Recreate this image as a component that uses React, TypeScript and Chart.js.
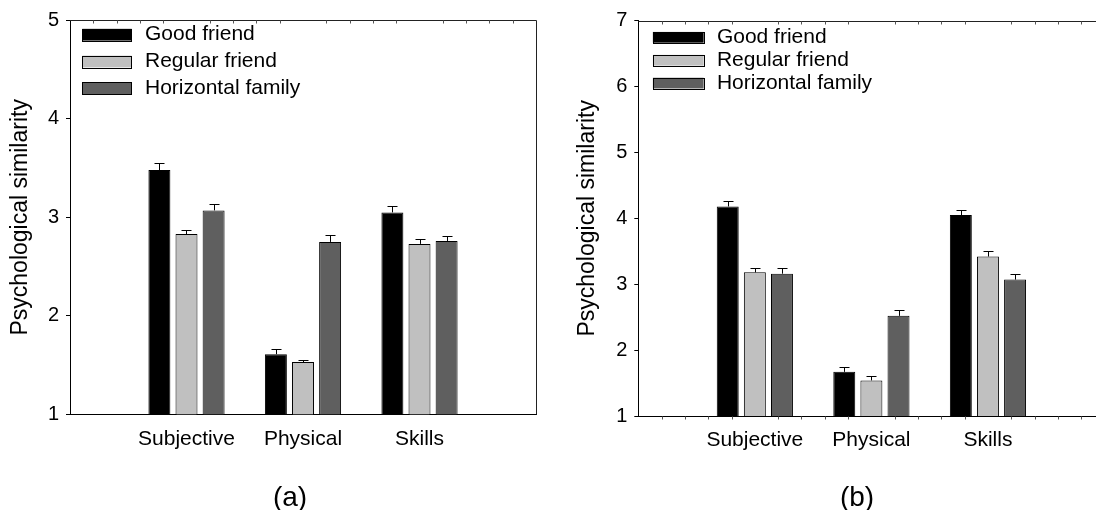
import { useEffect, useRef } from 'react';
import { Chart, registerables } from 'chart.js';

Chart.register(...registerables);

const FONT = '"Liberation Sans", Arial, Helvetica, sans-serif';

const categories = ['Subjective', 'Physical', 'Skills'];
const seriesLabels = ['Good friend', 'Regular friend', 'Horizontal family'];
const seriesColors = ['#000000', '#c0c0c0', '#5f5f5f'];
const yAxisTitle = 'Psychological similarity';
const panelCaptions = ['(a)', '(b)'];

// Panel (a): means and standard errors
const goodFriendA = [3.48, 1.61, 3.05];
const regularFriendA = [2.83, 1.53, 2.73];
const horizontalFamilyA = [3.07, 2.75, 2.76];
const goodFriendErrA = [0.07, 0.05, 0.06];
const regularFriendErrA = [0.045, 0.025, 0.045];
const horizontalFamilyErrA = [0.06, 0.07, 0.05];
const yRangeA = [1, 5];

// Panel (b): means and standard errors
const goodFriendB = [4.18, 1.67, 4.05];
const regularFriendB = [3.18, 1.54, 3.42];
const horizontalFamilyB = [3.16, 2.52, 3.07];
const goodFriendErrB = [0.09, 0.07, 0.08];
const regularFriendErrB = [0.07, 0.06, 0.09];
const horizontalFamilyErrB = [0.085, 0.085, 0.08];
const yRangeB = [1, 7];

type LegendLayout = {
  inset: number;
  firstRow: number;
  rowGap: number;
  boxW: number;
  boxH: number;
  textGap: number;
};

type Panel = {
  width: number;
  plotLeft: number;
  plotRight: number;
  plotTop: number;
  plotBottom: number;
  titlePad: number;
  values: number[][];
  errors: number[][];
  yRange: number[];
  legend: LegendLayout;
  bottomMinor: boolean;
};

const panelA: Panel = {
  width: 548,
  plotLeft: 70,
  plotRight: 536.5,
  plotTop: 20.3,
  plotBottom: 414.3,
  titlePad: 6.5,
  values: [goodFriendA, regularFriendA, horizontalFamilyA],
  errors: [goodFriendErrA, regularFriendErrA, horizontalFamilyErrA],
  yRange: yRangeA,
  legend: { inset: 12.3, firstRow: 14.4, rowGap: 26.8, boxW: 49.4, boxH: 11.7, textGap: 62.7 },
  bottomMinor: false,
};

const panelB: Panel = {
  width: 570,
  plotLeft: 90.3,
  plotRight: 556.5,
  plotTop: 20.7,
  plotBottom: 416,
  titlePad: 25.8,
  values: [goodFriendB, regularFriendB, horizontalFamilyB],
  errors: [goodFriendErrB, regularFriendErrB, horizontalFamilyErrB],
  yRange: yRangeB,
  legend: { inset: 14.6, firstRow: 16.6, rowGap: 22.9, boxW: 50.7, boxH: 10.7, textGap: 64 },
  bottomMinor: true,
};

// Upward-only error bars with a short cap, drawn on top of each bar
const errorBarPlugin = {
  id: 'errorBars',
  afterDatasetsDraw(chart: any) {
    const { ctx } = chart;
    const yScale = chart.scales.y;
    ctx.save();
    ctx.strokeStyle = '#000';
    ctx.lineWidth = 1;
    chart.data.datasets.forEach((ds: any, i: number) => {
      const meta = chart.getDatasetMeta(i);
      meta.data.forEach((bar: any, j: number) => {
        const v = ds.data[j].y;
        const e = ds.errors[j];
        const yTop = Math.round(yScale.getPixelForValue(v + e)) + 0.5;
        const x = Math.round(bar.x) + 0.5;
        ctx.beginPath();
        ctx.moveTo(x, bar.y);
        ctx.lineTo(x, yTop);
        ctx.moveTo(x - 5, yTop);
        ctx.lineTo(x + 5, yTop);
        ctx.stroke();
      });
    });
    ctx.restore();
  },
};

// Top/right frame plus the small minor ticks along the horizontal edges
const framePlugin = {
  id: 'frame',
  afterDraw(chart: any, _args: any, opts: any) {
    const { ctx } = chart;
    const { left, right, top, bottom } = chart.chartArea;
    const xs = chart.scales.x;
    ctx.save();
    ctx.strokeStyle = '#222';
    ctx.lineWidth = 1;
    const t = Math.round(top) + 0.5;
    const r = Math.round(right) + 0.5;
    ctx.beginPath();
    ctx.moveTo(left, t);
    ctx.lineTo(r, t);
    ctx.lineTo(r, bottom);
    ctx.stroke();

    ctx.strokeStyle = '#555';
    const steps = Math.round((xs.max - xs.min) * 5);
    const b = Math.round(bottom) + 0.5;
    ctx.beginPath();
    for (let k = 1; k < steps; k++) {
      if (k % 5 === 0) continue;
      const x = Math.round(xs.getPixelForValue(xs.min + k / 5)) + 0.5;
      ctx.moveTo(x, t);
      ctx.lineTo(x, t + 3);
      if (opts.bottomMinor) {
        ctx.moveTo(x, b);
        ctx.lineTo(x, b + 3);
      }
    }
    ctx.stroke();
    ctx.restore();
  },
};

// Legend boxes stacked in the upper-left corner of the plot
const boxLegendPlugin = {
  id: 'boxLegend',
  afterDraw(chart: any, _args: any, opts: any) {
    const { ctx } = chart;
    const { left, top } = chart.chartArea;
    ctx.save();
    ctx.font = `21px ${FONT}`;
    ctx.textBaseline = 'middle';
    ctx.textAlign = 'left';
    chart.data.datasets.forEach((ds: any, i: number) => {
      const cy = top + opts.firstRow + i * opts.rowGap;
      const bx = left + opts.inset;
      const by = cy - opts.boxH / 2;
      ctx.fillStyle = ds.backgroundColor;
      ctx.fillRect(bx, by, opts.boxW, opts.boxH);
      ctx.strokeStyle = '#000';
      ctx.lineWidth = 1;
      ctx.strokeRect(Math.round(bx) + 0.5, Math.round(by) + 0.5, Math.round(opts.boxW), Math.round(opts.boxH));
      ctx.fillStyle = '#000';
      ctx.fillText(ds.label, bx + opts.textGap, cy);
    });
    ctx.restore();
  },
};

function buildChart(canvas: HTMLCanvasElement, panel: Panel) {
  const datasets = seriesLabels.map((label, k) => ({
    label,
    data: categories.map((_, i) => ({ x: i + 1, y: panel.values[k][i] })),
    errors: panel.errors[k],
    backgroundColor: seriesColors[k],
    borderColor: '#000',
    borderWidth: 1,
    categoryPercentage: 0.698,
    barPercentage: 0.81,
  }));

  return new Chart(canvas, {
    type: 'bar',
    data: { datasets } as any,
    options: {
      responsive: false,
      animation: false,
      events: [],
      layout: {
        padding: { left: 0, top: panel.plotTop, right: panel.width - panel.plotRight, bottom: 0 },
      },
      plugins: {
        legend: { display: false },
        tooltip: { enabled: false },
        frame: { bottomMinor: panel.bottomMinor },
        boxLegend: panel.legend,
      } as any,
      scales: {
        x: {
          type: 'linear',
          min: 0,
          max: categories.length + 1,
          offset: false,
          ticks: {
            stepSize: 1,
            autoSkip: false,
            maxRotation: 0,
            padding: 12,
            color: '#000',
            font: { family: FONT, size: 21 },
            callback: (v: any) => categories[Number(v) - 1] ?? '',
          },
          grid: { display: false, drawTicks: false },
          border: { display: true, color: '#000', width: 1 },
          afterFit: (s: any) => {
            s.height = 510 - panel.plotBottom;
          },
        },
        y: {
          min: panel.yRange[0],
          max: panel.yRange[1],
          ticks: {
            stepSize: 1,
            padding: 7,
            color: '#000',
            font: { family: FONT, size: 20 },
          },
          grid: { drawOnChartArea: false, drawTicks: true, tickLength: 4, color: '#000' },
          border: { display: true, color: '#000', width: 1 },
          title: {
            display: true,
            text: yAxisTitle,
            color: '#000',
            font: { family: FONT, size: 23 },
            padding: { top: panel.titlePad, bottom: 0 },
          },
          afterFit: (s: any) => {
            s.width = panel.plotLeft;
          },
        },
      } as any,
    },
    plugins: [errorBarPlugin, framePlugin, boxLegendPlugin],
  });
}

function PanelChart({ panel, left }: { panel: Panel; left: number }) {
  const ref = useRef<HTMLCanvasElement>(null);
  useEffect(() => {
    if (!ref.current) return;
    const chart = buildChart(ref.current, panel);
    return () => chart.destroy();
  }, [panel]);
  return (
    <canvas
      ref={ref}
      width={panel.width}
      height={510}
      style={{ position: 'absolute', left, top: 0, width: panel.width, height: 510 }}
    />
  );
}

const captionStyle = (cx: number): React.CSSProperties => ({
  position: 'absolute',
  left: cx - 50,
  top: 480,
  width: 100,
  textAlign: 'center',
  fontFamily: FONT,
  fontSize: 28,
  lineHeight: '34px',
  color: '#000',
});

export default function App() {
  return (
    <div
      style={{
        position: 'fixed',
        left: 0,
        top: 0,
        width: 1096,
        height: 510,
        overflow: 'hidden',
        background: '#fff',
      }}
    >
      <PanelChart panel={panelA} left={0} />
      <PanelChart panel={panelB} left={548} />
      <div style={captionStyle(290)}>{panelCaptions[0]}</div>
      <div style={captionStyle(857)}>{panelCaptions[1]}</div>
    </div>
  );
}
